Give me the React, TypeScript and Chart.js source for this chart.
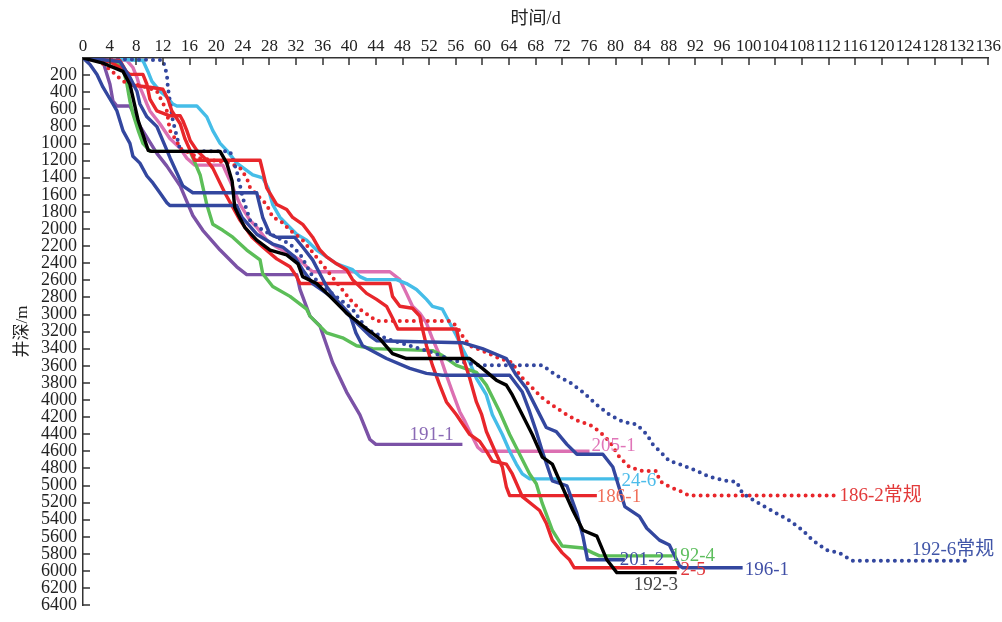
import React, { useEffect, useRef } from "react";
import { Chart, registerables } from "chart.js";
Chart.register(...registerables);

type Pt = [number, number];

const X_MAX = 136;
const X_STEP = 4;
const Y_MAX = 6400;
const Y_STEP = 200;
const xTitle = "时间/d";
const yTitle = "井深/m";

// [time (d), depth (m)]
const well_192_3: Pt[] = [
  [0, 0], [3, 60], [6, 157], [7.05, 307], [8.3, 734], [9.8, 1080], [10.3, 1092], [20.6, 1092],
  [21.6, 1230], [22.4, 1438], [22.8, 1749], [23.3, 1830], [24.3, 1980], [26.1, 2130], [28.1, 2246],
  [30.6, 2303], [32.3, 2407], [33.0, 2557], [35.1, 2638], [37.1, 2788], [39.6, 2984], [42.6, 3169],
  [44.6, 3284], [46.5, 3457], [48.6, 3515], [58.1, 3515], [60.0, 3630], [62.1, 3768], [63.6, 3826],
  [64.5, 3941], [66.0, 4172], [67.5, 4403], [69.0, 4668], [70.5, 4749], [71.6, 4945], [72.0, 5015],
  [73.6, 5292], [75.1, 5523], [77.2, 5592], [78.7, 5869], [80.2, 6019], [89.2, 6019],
];
const well_201_2: Pt[] = [
  [0, 0], [1.05, 76], [2.1, 192], [3, 342], [4.5, 538], [5.1, 619], [6.0, 849], [7.05, 999],
  [7.5, 1149], [8.55, 1230], [9.6, 1380], [10.5, 1461], [11.55, 1576], [12.6, 1692], [13.05, 1726],
  [23.1, 1726], [23.9, 1865], [26.1, 2061], [28.5, 2176], [30.0, 2211], [31.8, 2326], [33.0, 2476],
  [34.5, 2638], [36.6, 2753], [38.6, 2869], [40.1, 3000], [41.0, 3215], [42.0, 3365], [45.6, 3515],
  [49.1, 3630], [51.6, 3688], [54.0, 3711], [64.1, 3711], [66.0, 3907], [67.1, 4137], [68.1, 4368],
  [69.0, 4599], [70.5, 4945], [72.7, 5003], [74.2, 5326], [75.1, 5592], [75.8, 5869], [81.4, 5869],
];
const well_196_1: Pt[] = [
  [0, 0], [3, 20], [5.55, 42], [7.05, 226], [8.1, 388], [8.55, 538], [9.6, 688], [11.1, 803],
  [13.1, 1172], [15.0, 1496], [16.5, 1576], [26.1, 1576], [27.0, 1865], [28.1, 2061], [29.1, 2096],
  [31.8, 2096], [33.0, 2211], [34.5, 2361], [36.6, 2673], [39.6, 2984], [43.1, 3249], [44.1, 3307],
  [57.0, 3330], [60.0, 3399], [63.6, 3515], [65.1, 3711], [66.6, 3861], [68.1, 4092], [69.6, 4322],
  [71.1, 4369], [72.7, 4519], [74.2, 4634], [78.1, 4634], [79.6, 4784], [81.4, 5246], [83.6, 5362],
  [84.7, 5500], [86.6, 5639], [88.1, 5696], [89.6, 5939], [90.1, 5962], [99.1, 5962],
];
const well_186_1: Pt[] = [
  [0, 0], [1.8, 18], [5.55, 30], [6.75, 192], [7.5, 319], [10.05, 342], [12.0, 365], [12.75, 480],
  [13.35, 619], [14.6, 769], [15.3, 942], [16.1, 1080], [16.8, 1196], [26.6, 1196], [27.0, 1322],
  [27.6, 1518], [29.1, 1714], [30.6, 1772], [31.5, 1865], [33.0, 1945], [34.5, 2096], [35.6, 2246],
  [36.6, 2326], [38.1, 2407], [39.6, 2476], [40.5, 2592], [42.6, 2753], [44.1, 2823], [45.6, 2904],
  [46.5, 3042], [47.3, 3169], [56.1, 3169], [57.0, 3480], [58.1, 3746], [59.1, 4023], [59.9, 4172],
  [60.6, 4368], [62.1, 4634], [63.0, 4784], [63.6, 5015], [64.1, 5118], [77.2, 5118],
];
const well_2_5: Pt[] = [
  [0, 0], [4.05, 42], [5.55, 111], [7.05, 192], [9.0, 192], [9.6, 307], [10.05, 480], [11.1, 619],
  [13.05, 676], [14.6, 676], [15.0, 734], [15.6, 849], [16.1, 965], [17.1, 1080], [18.6, 1196],
  [19.5, 1288], [21.3, 1576], [23.6, 1899], [25.4, 2096], [27.0, 2211], [29.1, 2349], [31.1, 2442],
  [32.1, 2557], [32.6, 2638], [46.1, 2638], [46.5, 2788], [47.6, 2904], [49.5, 2927], [50.6, 3019],
  [51.0, 3169], [51.6, 3365], [52.5, 3595], [53.6, 3826], [54.6, 4023], [56.1, 4172], [58.1, 4403],
  [59.6, 4484], [60.6, 4599], [61.5, 4715], [63.6, 4749], [64.5, 4865], [66.0, 5130], [68.6, 5292],
  [69.6, 5442], [70.5, 5639], [72.0, 5788], [73.1, 5869], [73.8, 5962], [89.6, 5962],
];
const well_192_6: Pt[] = [
  [0, 0], [3, 10], [12.0, 25], [12.6, 192], [12.75, 342], [13.05, 503], [13.5, 734], [14.1, 919],
  [14.6, 1080], [15.0, 1092], [22.1, 1092], [23.1, 1322], [24.0, 1634], [25.1, 1899], [27.0, 2015],
  [29.1, 2096], [31.1, 2176], [32.6, 2292], [34.5, 2557], [36.6, 2707], [38.6, 2823], [40.5, 2938],
  [42.6, 3169], [45.6, 3284], [49.1, 3365], [52.5, 3445], [55.5, 3538], [59.6, 3595], [69.0, 3595],
  [71.1, 3711], [73.1, 3792], [75.1, 3907], [77.2, 4057], [79.1, 4173], [81.1, 4253], [83.2, 4288],
  [84.7, 4403], [85.6, 4519], [87.1, 4634], [88.1, 4715], [89.6, 4749], [92.2, 4830], [94.1, 4899],
  [96.7, 4945], [98.2, 4957], [99.1, 5095], [101.6, 5210], [104.2, 5326], [106.1, 5407],
  [108.1, 5523], [109.6, 5639], [111.7, 5754], [113.6, 5788], [115.6, 5881], [133.1, 5881],
];
const well_186_2: Pt[] = [
  [0, 0], [2.55, 42], [4.05, 134], [6.0, 273], [9.6, 342], [11.1, 388], [12.6, 619], [13.05, 849],
  [14.1, 976], [14.6, 1057], [17.6, 1172], [22.1, 1230], [23.6, 1288], [24.6, 1403], [25.1, 1518],
  [27.6, 1714], [28.5, 1865], [29.6, 1899], [31.1, 2015], [33.0, 2130], [36.6, 2476], [38.6, 2673],
  [40.1, 2823], [41.6, 2938], [43.1, 3019], [44.1, 3076], [55.1, 3076], [56.1, 3134], [57.0, 3249],
  [58.1, 3365], [60.6, 3445], [62.6, 3515], [64.5, 3561], [65.6, 3711], [67.1, 3826], [69.0, 3976],
  [71.1, 4092], [72.7, 4173], [74.6, 4253], [76.1, 4288], [77.6, 4369], [79.1, 4484], [80.6, 4668],
  [82.1, 4784], [84.1, 4830], [86.2, 4830], [86.6, 4945], [88.1, 5015], [89.6, 5061], [91.1, 5118],
  [113.2, 5118],
];
const well_192_4: Pt[] = [
  [0, 0], [3, 15], [4.5, 42], [6, 111], [6.6, 307], [7.05, 503], [7.5, 653], [8.3, 849], [9.0, 999],
  [10.1, 1092], [16.1, 1092], [17.6, 1368], [18.6, 1714], [19.5, 1945], [21.0, 2015], [22.5, 2096],
  [24.6, 2246], [26.6, 2361], [27.0, 2523], [28.5, 2673], [31.1, 2788], [33.6, 2938], [34.1, 3019],
  [36.6, 3215], [39.0, 3272], [41.1, 3365], [43.5, 3399], [52.5, 3422], [54.0, 3480], [56.1, 3595],
  [59.1, 3676], [60.6, 3826], [62.6, 4137], [64.1, 4403], [65.6, 4634], [67.1, 4865], [68.1, 4980],
  [69.0, 5210], [70.5, 5523], [72.0, 5708], [75.1, 5731], [76.6, 5788], [77.6, 5823], [88.6, 5823],
];
const well_24_6: Pt[] = [
  [0, 0], [5, 15], [9.0, 30], [9.75, 157], [10.35, 273], [11.55, 388], [12.6, 457], [13.5, 538],
  [14.1, 561], [17.1, 561], [18.6, 688], [19.5, 849], [20.6, 999], [21.6, 1080], [23.1, 1230],
  [25.5, 1368], [27.0, 1403], [27.8, 1518], [28.5, 1714], [29.6, 1865], [30.6, 1945], [32.1, 2061],
  [33.6, 2130], [35.1, 2246], [36.6, 2326], [38.1, 2407], [40.5, 2476], [41.6, 2557], [42.6, 2592],
  [47.1, 2592], [48.6, 2638], [50.1, 2707], [51.6, 2823], [52.5, 2904], [54.0, 2938], [55.1, 3100],
  [56.1, 3249], [57.0, 3399], [58.1, 3561], [59.1, 3746], [60.6, 3941], [61.5, 4172], [63.0, 4403],
  [64.1, 4600], [65.1, 4749], [66.0, 4865], [67.1, 4922], [80.6, 4922],
];
const well_205_1: Pt[] = [
  [0, 0], [4, 10], [6.6, 30], [7.5, 111], [8.1, 226], [8.55, 342], [9, 423], [9.6, 538], [10.05, 619],
  [11.55, 769], [13.05, 942], [14.6, 1057], [15.6, 1172], [16.8, 1253], [21.0, 1253], [22.1, 1438],
  [23.6, 1714], [25.1, 1899], [26.1, 1980], [27.6, 2130], [29.1, 2211], [31.1, 2292], [32.6, 2361],
  [33.6, 2442], [34.5, 2500], [46.1, 2500], [47.6, 2592], [48.6, 2753], [49.5, 2904], [50.6, 2984],
  [51.6, 3100], [52.5, 3284], [53.6, 3480], [54.6, 3711], [55.5, 3907], [56.6, 4137], [57.4, 4253],
  [58.3, 4400], [59.3, 4553], [60.0, 4600], [76.1, 4600],
];
const well_191_1: Pt[] = [
  [0, 0], [2, 15], [3, 42], [4.05, 307], [4.5, 503], [5.1, 561], [7.05, 561], [8.6, 803],
  [11.1, 1115], [12.6, 1265], [14.6, 1496], [16.5, 1842], [18.0, 2015], [20.6, 2246], [23.1, 2442],
  [24.6, 2534], [32.1, 2534], [32.6, 2707], [34.1, 3019], [35.6, 3134], [37.5, 3561], [39.6, 3907],
  [41.6, 4173], [43.1, 4462], [44, 4519], [57, 4519],
];

const seriesNames = ["192-3", "201-2", "196-1", "186-1", "2-5", "192-6常规", "186-2常规", "192-4", "24-6", "205-1", "191-1"];
const seriesData = [well_192_3, well_201_2, well_196_1, well_186_1, well_2_5, well_192_6, well_186_2, well_192_4, well_24_6, well_205_1, well_191_1];

// styles
const lineColors = ["#000000", "#33479F", "#33479F", "#E8262B", "#E8262B", "#33479F", "#E8262B", "#5CBE58", "#45BDE8", "#DC70B2", "#7B52A6"];
const dotted = [false, false, false, false, false, true, true, false, false, false, false];
const labelColors = ["#444444", "#3F4EA0", "#3F4EA6", "#F0705A", "#E0383C", "#4055A8", "#E23A3A", "#5DBE5D", "#4DBCEA", "#E075B8", "#8A6AB5"];
const labelOffsets: Pt[] = [[-43, 12], [-5, 0], [2, 2], [0, 1], [1, 2], [-57, -11], [3, 0], [-2, 0], [2, 2], [2, -5], [-53, -9]];

const FONT = "'Liberation Serif', 'DejaVu Serif', 'Noto Sans CJK SC', serif";

export default function App() {
  const ref = useRef<HTMLCanvasElement | null>(null);
  useEffect(() => {
    document.body.style.margin = "0";
    const canvas = ref.current;
    if (!canvas) return;
    const overlay = {
      id: "overlay",
      afterDraw(chart: any) {
        const { ctx } = chart;
        const xs = chart.scales.x;
        const ys = chart.scales.y;
        ctx.save();
        ctx.strokeStyle = "#333";
        ctx.lineWidth = 1.5;
        ctx.beginPath();
        for (let v = X_STEP; v <= X_MAX; v += X_STEP) {
          const px = Math.round(xs.getPixelForValue(v));
          ctx.moveTo(px, ys.top);
          ctx.lineTo(px, ys.top + 7);
        }
        for (let v = Y_STEP; v <= Y_MAX; v += Y_STEP) {
          const py = Math.round(ys.getPixelForValue(v));
          ctx.moveTo(xs.left, py);
          ctx.lineTo(xs.left + 7, py);
        }
        ctx.stroke();
        ctx.font = `19px ${FONT}`;
        ctx.textBaseline = "middle";
        ctx.textAlign = "left";
        chart.data.datasets.forEach((_ds: any, i: number) => {
          const meta = chart.getDatasetMeta(i);
          const last = meta.data[meta.data.length - 1];
          if (!last) return;
          ctx.fillStyle = labelColors[i];
          ctx.fillText(seriesNames[i], last.x + labelOffsets[i][0], last.y + labelOffsets[i][1]);
        });
        ctx.restore();
      },
    };
    const chart = new Chart(canvas, {
      type: "line",
      data: {
        datasets: seriesData.map((pts, i) => ({
          label: seriesNames[i],
          data: pts.map(([x, y]) => ({ x, y })),
          borderColor: lineColors[i],
          backgroundColor: lineColors[i],
          borderWidth: dotted[i] ? 4 : 3.4,
          borderDash: dotted[i] ? [0, 7] : [],
          borderCapStyle: dotted[i] ? "round" : "butt",
          borderJoinStyle: "round",
          pointRadius: 0,
          tension: 0,
          fill: false,
        })),
      },
      options: {
        animation: false,
        responsive: true,
        maintainAspectRatio: false,
        layout: { padding: { left: 0, top: 0, right: 13, bottom: 9 } },
        plugins: { legend: { display: false }, tooltip: { enabled: false } },
        scales: {
          x: {
            type: "linear",
            position: "top",
            min: 0,
            max: X_MAX,
            grid: { display: false, drawTicks: false },
            border: { display: true, color: "#333", width: 1.5 },
            ticks: {
              stepSize: X_STEP,
              autoSkip: false,
              maxRotation: 0,
              minRotation: 0,
              padding: 1,
              color: "#222",
              font: { family: FONT, size: 17 },
            },
            title: {
              display: true,
              text: xTitle,
              color: "#222",
              font: { family: FONT, size: 18 },
              padding: { top: 8, bottom: 0 },
            },
            afterFit: (s: any) => { s.height = 58; },
          },
          y: {
            type: "linear",
            position: "left",
            reverse: true,
            min: 0,
            max: Y_MAX,
            grid: { display: false, drawTicks: false },
            border: { display: true, color: "#333", width: 1.5 },
            ticks: {
              stepSize: Y_STEP,
              autoSkip: false,
              padding: 6,
              color: "#222",
              font: { family: FONT, size: 18 },
              callback: (v: any) => (Number(v) === 0 ? "" : String(v)),
            },
            title: {
              display: true,
              text: yTitle,
              color: "#222",
              font: { family: FONT, size: 17 },
              padding: { top: 12, bottom: 0 },
            },
            afterFit: (s: any) => { s.width = 83; },
          },
        },
      },
      plugins: [overlay],
    } as any);
    return () => chart.destroy();
  }, []);
  return (
    <div style={{ width: 1002, height: 622, position: "relative" }}>
      <canvas ref={ref} />
    </div>
  );
}
